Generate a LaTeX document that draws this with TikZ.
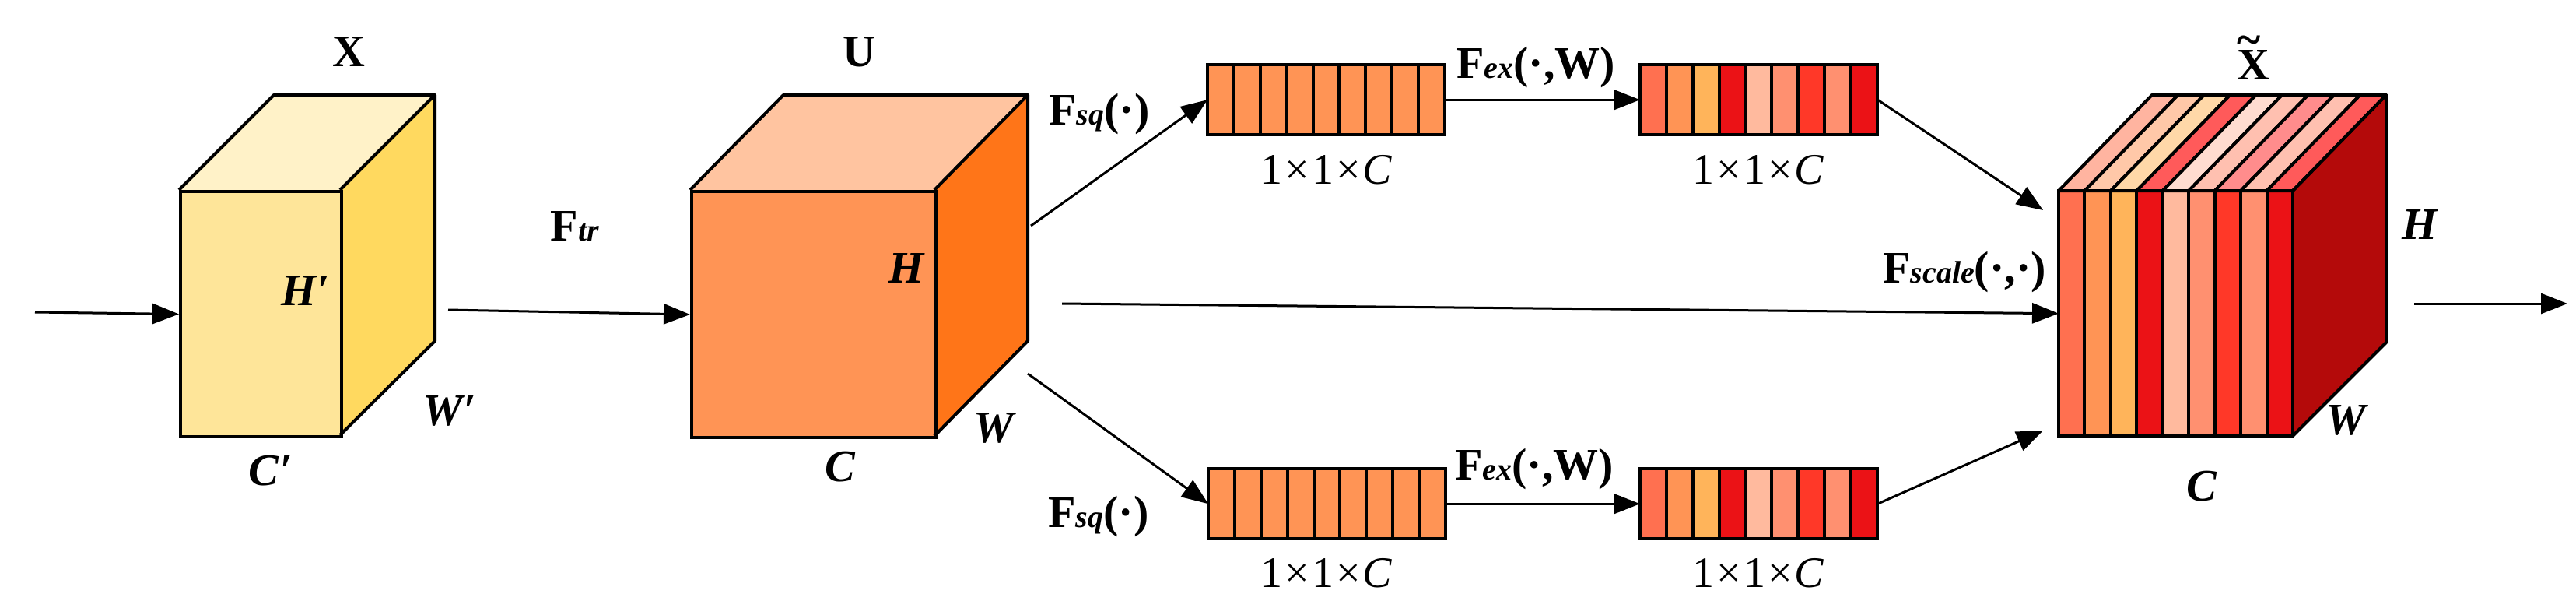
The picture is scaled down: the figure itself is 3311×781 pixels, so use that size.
\documentclass[tikz,border=0pt]{standalone}
\usepackage{fontspec}
\setmainfont{Liberation Serif}
\usetikzlibrary{arrows.meta}
\definecolor{xtop}{HTML}{FFF2C8}
\definecolor{xside}{HTML}{FFD95F}
\definecolor{xfront}{HTML}{FEE599}
\definecolor{utop}{HTML}{FFC4A0}
\definecolor{uside}{HTML}{FF7518}
\definecolor{ufront}{HTML}{FF9455}
\definecolor{yside}{HTML}{B40A0A}
\newcommand{\pr}{\kern2pt{\upshape ′}}
\newcommand{\sub}[1]{{\fontsize{40}{44}\selectfont\itshape #1}}
\begin{document}
\begin{tikzpicture}[x=1pt,y=-1pt,
  edge/.style={line width=4pt,draw=black},
  arr/.style={line width=3pt,-{Triangle[length=34pt,width=26pt]}},
  lbl/.style={font=\fontsize{58}{62}\selectfont\bfseries},
  ilbl/.style={font=\fontsize{58}{62}\selectfont\bfseries\itshape},
  dim/.style={font=\fontsize{56}{60}\selectfont},
  vec/.style={draw=none,minimum width=305pt,minimum height=90pt,inner sep=0pt}]
\useasboundingbox (0,0) rectangle (3311,781);
% ---- cube X
\fill[xtop] (230,244)--(352,122)--(559,122)--(437,244)--cycle;
\fill[xside] (437,244)--(559,122)--(559,438)--(437,559)--cycle;
\node[draw=black,line width=4pt,fill=xfront,minimum width=207pt,minimum height=315pt,anchor=north west,inner sep=0pt] (X) at (230,244) {};
\draw[edge,line join=round] (230,244)--(352,122)--(559,122)--(559,438)--(437,559) (437,244)--(559,122);
% ---- cube U
\fill[utop] (887,244)--(1007,122)--(1321,122)--(1201,244)--cycle;
\fill[uside] (1201,244)--(1321,122)--(1321,438)--(1201,560)--cycle;
\node[draw=black,line width=4pt,fill=ufront,minimum width=314pt,minimum height=316pt,anchor=north west,inner sep=0pt] (U) at (887,244) {};
\draw[edge,line join=round] (887,244)--(1007,122)--(1321,122)--(1321,438)--(1201,560) (1201,244)--(1321,122);
% ---- output cube
\def\fronts{{"FF7050","FF9455","FFB45A","EB1216","FFBA9E","FF9070","FF3828","FF9070","EB1216"}}
\def\tops{{"FFB4A0","FFC8A8","FFD8A8","FF5A5A","FFDCD0","FFC0B0","FF8C8C","FFC0B0","FF5A5A"}}
\fill[yside] (2947,245)--(3067,122)--(3067,440)--(2947,560)--cycle;
\node[minimum width=301pt,minimum height=315pt,anchor=north west,inner sep=0pt] (Y) at (2646,245) {};
\foreach \i in {0,...,8}{
  \pgfmathsetmacro\xa{2646+\i*301/9}
  \pgfmathsetmacro\xb{2646+(\i+1)*301/9}
  \pgfmathparse{\fronts[\i]}\definecolor{fc}{HTML}{\pgfmathresult}
  \pgfmathparse{\tops[\i]}\definecolor{tc}{HTML}{\pgfmathresult}
  \filldraw[fill=fc,draw=black,line width=4pt] (\xa,245) rectangle (\xb,560);
  \filldraw[fill=tc,draw=black,line width=4pt,line join=round] (\xa,245)--++(120,-123)--++(\xb-\xa,0)--(\xb,245)--cycle;
}
\draw[edge,line join=round] (2947,245)--(3067,122)--(3067,440)--(2947,560);
% ---- vectors
\def\vcols{{"FF7050","FF9455","FFB45A","EB1216","FFBA9E","FF9070","FF3828","FF9070","EB1216"}}
\foreach \nm/\px/\py/\mode in {v1/1552/83/0,v2/2108/83/1,v3/1553/602/0,v4/2108/602/1}{
  \node[vec,anchor=north west] (\nm) at (\px,\py) {};
  \foreach \i in {0,...,8}{
    \pgfmathsetmacro\xa{\px+\i*305/9}
    \pgfmathsetmacro\xb{\px+(\i+1)*305/9}
    \ifnum\mode=0 \definecolor{vc}{HTML}{FF9455}\else
      \pgfmathparse{\vcols[\i]}\definecolor{vc}{HTML}{\pgfmathresult}\fi
    \filldraw[fill=vc,draw=black,line width=4pt] (\xa,\py) rectangle (\xb,\py+90);
  }
}
\node[dim] at (1705,218) {1\kern3pt×\kern3pt1\kern3pt×\kern3pt\textit{C}};
\node[dim] at (2260,218) {1\kern3pt×\kern3pt1\kern3pt×\kern3pt\textit{C}};
\node[dim] at (1705,736) {1\kern3pt×\kern3pt1\kern3pt×\kern3pt\textit{C}};
\node[dim] at (2260,736) {1\kern3pt×\kern3pt1\kern3pt×\kern3pt\textit{C}};
% ---- coordinates and arrows
\coordinate (in) at (45,401);
\coordinate (out0) at (3103,390);
\coordinate (out1) at (3300,390);
\coordinate (ftr0) at (576,398);
\coordinate (m0) at (1365,390);
\coordinate (a0) at (1325,290);
\coordinate (b0) at (1321,480);
\coordinate (t1) at (2626,270);
\coordinate (t2) at (2626,553);
\draw[arr] (in) -- (X.west);
\draw[arr] (ftr0) -- (U.west);
\draw[arr] (a0) -- (v1.west);
\draw[arr] (b0) -- (v3.west);
\draw[arr] (v1.east) -- (v2.west);
\draw[arr] (v3.east) -- (v4.west);
\draw[arr] (v2.east) -- (t1);
\draw[arr] (v4.east) -- (t2);
\draw[arr] (m0) -- (Y.west);
\draw[arr] (out0) -- (out1);
% ---- labels
\node[lbl] at (448,67) {X};
\node[lbl] at (1104,67) {U};
\node[lbl] at (2896,74) {X\llap{\raisebox{0.55em}{\~{}\kern0.2em}}};
\node[ilbl] at (393,374) {H\pr};
\node[ilbl] at (578,528) {W\pr};
\node[ilbl] at (348,605) {C\pr};
\node[ilbl] at (1165,345) {H};
\node[ilbl] at (1277,550) {W};
\node[ilbl] at (1080,600) {C};
\node[ilbl] at (3110,289) {H};
\node[ilbl] at (3015,540) {W};
\node[ilbl] at (2830,625) {C};
\node[lbl] at (739,291) {F\sub{tr}};
\node[lbl] at (1413,147) {F\sub{sq}(·)};
\node[lbl] at (1412,664) {F\sub{sq}(·)};
\node[lbl] at (1974,87) {F\sub{ex}(·,W)};
\node[lbl] at (1972,603) {F\sub{ex}(·,W)};
\node[lbl] at (2525,350) {F\sub{scale}(·,·)};
\end{tikzpicture}
\end{document}
